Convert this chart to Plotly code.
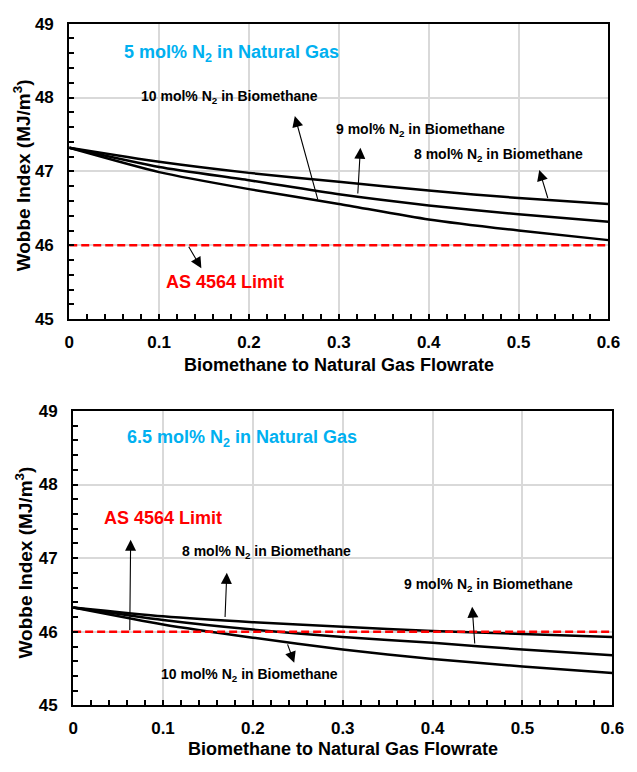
import plotly.graph_objects as go

# ---------------- data ----------------
flow = [0.0, 0.1, 0.2, 0.3, 0.4, 0.5, 0.6]

# Top panel: 5 mol% N2 in natural gas
top_8 = [47.32, 47.13, 46.98, 46.86, 46.74, 46.64, 46.56]
top_9 = [47.32, 47.06, 46.88, 46.69, 46.54, 46.42, 46.32]
top_10 = [47.32, 46.99, 46.76, 46.56, 46.35, 46.20, 46.07]

# Bottom panel: 6.5 mol% N2 in natural gas
bot_8 = [46.33, 46.21, 46.13, 46.07, 46.01, 45.97, 45.93]
bot_9 = [46.33, 46.16, 46.03, 45.93, 45.85, 45.76, 45.68]
bot_10 = [46.33, 46.10, 45.92, 45.76, 45.63, 45.53, 45.44]

limit = 46.0
x_range = [0, 0.6]
y_range = [45, 49]
x_ticks = [0, 0.1, 0.2, 0.3, 0.4, 0.5, 0.6]
x_ticktext = ["0", "0.1", "0.2", "0.3", "0.4", "0.5", "0.6"]
y_ticks = [45, 46, 47, 48, 49]

FONT = "Arial, 'Liberation Sans', sans-serif"
BLUE = "#00B0F0"
RED = "#FF0000"

fig = go.Figure()

def add_panel(xa, ya, s8, s9, s10):
    for s in (s8, s9, s10):
        fig.add_trace(go.Scatter(x=flow, y=s, mode="lines",
                                 line=dict(color="black", width=2.5, shape="spline", smoothing=0.6),
                                 xaxis=xa, yaxis=ya, showlegend=False, hoverinfo="skip"))
    fig.add_trace(go.Scatter(x=x_range, y=[limit, limit], mode="lines",
                             line=dict(color=RED, width=2.5, dash="8px,4px"),
                             xaxis=xa, yaxis=ya, showlegend=False, hoverinfo="skip"))

add_panel("x", "y", top_8, top_9, top_10)
add_panel("x2", "y2", bot_8, bot_9, bot_10)

def xaxis_cfg(domain, anchor):
    return dict(domain=domain, anchor=anchor, range=x_range, tickvals=x_ticks, ticktext=x_ticktext,
                showgrid=True, gridcolor="#D9D9D9", gridwidth=1.5, zeroline=False,
                showline=True, linecolor="black", linewidth=2, mirror=True,
                ticks="inside", ticklen=5, tickwidth=1.5, tickcolor="black",
                minor=dict(dtick=0.02, ticks="inside", ticklen=5, tickwidth=1.5, tickcolor="black", showgrid=False),
                ticklabelstandoff=6,
                tickfont=dict(family=FONT, size=17, color="black", weight="bold"))

def yaxis_cfg(domain, anchor):
    return dict(domain=domain, anchor=anchor, range=y_range, tickvals=y_ticks,
                showgrid=True, gridcolor="#D9D9D9", gridwidth=1.5, zeroline=False,
                showline=True, linecolor="black", linewidth=2, mirror=True,
                ticks="inside", ticklen=5, tickwidth=1.5, tickcolor="black",
                minor=dict(dtick=0.2, ticks="inside", ticklen=5, tickwidth=1.5, tickcolor="black", showgrid=False),
                ticklabelstandoff=10,
                tickfont=dict(family=FONT, size=17, color="black", weight="bold"))

W, H = 637, 772
fig.update_layout(
    width=W, height=H, margin=dict(l=0, r=0, t=0, b=0),
    paper_bgcolor="white", plot_bgcolor="white",
    xaxis=xaxis_cfg([66 / W, 620 / W], "y"),
    yaxis=yaxis_cfg([(H - 318) / H, (H - 15) / H], "x"),
    xaxis2=xaxis_cfg([70 / W, 624 / W], "y2"),
    yaxis2=yaxis_cfg([(H - 714) / H, (H - 412) / H], "x2"),
)

anns = []

def label(text, x, y, xr, yr, size, color="black"):
    anns.append(dict(text="<b>" + text + "</b>", x=x, y=y, xref=xr, yref=yr,
                     xanchor="left", yanchor="middle", showarrow=False,
                     font=dict(family=FONT, size=size, color=color)))

def arrow(tip, tail, xr, yr):
    anns.append(dict(text="", x=tip[0], y=tip[1], ax=tail[0], ay=tail[1],
                     xref=xr, yref=yr, axref=xr, ayref=yr, showarrow=True,
                     arrowhead=2, arrowsize=2.0, arrowwidth=1.1, arrowcolor="black"))

N2 = "N<sub>2</sub>"
# top panel
label("5 mol% " + N2 + " in Natural Gas", 0.0585, 48.60, "x", "y", 18, BLUE)
label("10 mol% " + N2 + " in Biomethane", 0.078, 48.01, "x", "y", 14)
label("9 mol% " + N2 + " in Biomethane", 0.2946, 47.56, "x", "y", 14)
label("8 mol% " + N2 + " in Biomethane", 0.381, 47.22, "x", "y", 14)
label("AS 4564 Limit", 0.106, 45.50, "x", "y", 18, RED)
arrow((0.251, 47.75), (0.277, 46.60), "x", "y")
arrow((0.324, 47.32), (0.321, 46.68), "x", "y")
arrow((0.523, 47.02), (0.533, 46.62), "x", "y")
arrow((0.147, 45.69), (0.132, 46.0), "x", "y")

# bottom panel
label("6.5 mol% " + N2 + " in Natural Gas", 0.0574, 48.63, "x2", "y2", 18, BLUE)
label("AS 4564 Limit", 0.0325, 47.54, "x2", "y2", 18, RED)
label("8 mol% " + N2 + " in Biomethane", 0.119, 47.09, "x2", "y2", 14)
label("9 mol% " + N2 + " in Biomethane", 0.366, 46.64, "x2", "y2", 14)
label("10 mol% " + N2 + " in Biomethane", 0.0953, 45.42, "x2", "y2", 14)
arrow((0.064, 47.25), (0.063, 46.0), "x2", "y2")
arrow((0.171, 46.80), (0.169, 46.18), "x2", "y2")
arrow((0.444, 46.34), (0.447, 45.82), "x2", "y2")
arrow((0.246, 45.58), (0.238, 45.85), "x2", "y2")

# axis titles
ytitle = "<b>Wobbe Index (MJ/m<sup>3</sup>)</b>"
xtitle = "<b>Biomethane to Natural Gas Flowrate</b>"
for (px, py) in [(17, 171), (20, 567)]:
    anns.append(dict(text=ytitle, x=px / W, y=(H - py) / H, xref="paper", yref="paper",
                     textangle=-90, showarrow=False, xanchor="center", yanchor="middle",
                     font=dict(family=FONT, size=19, color="black")))
for (px, py) in [(343, 365), (347, 759)]:
    anns.append(dict(text=xtitle, x=px / W, y=(H - py) / H, xref="paper", yref="paper",
                     showarrow=False, xanchor="center", yanchor="middle",
                     font=dict(family=FONT, size=18, color="black")))

fig.update_layout(annotations=anns)
fig.write_html("out.html")
